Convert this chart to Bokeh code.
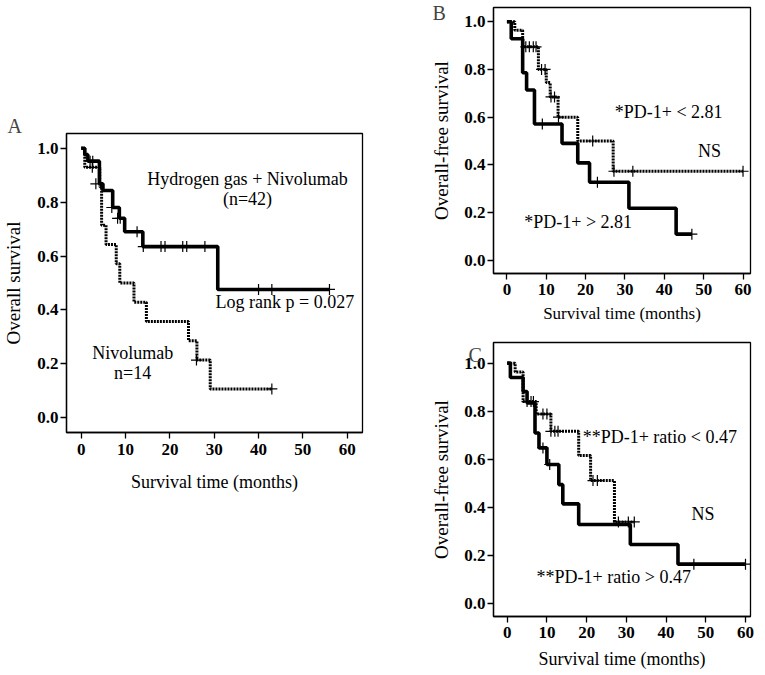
from bokeh.plotting import figure
from bokeh.models import Range1d, FixedTicker, PrintfTickFormatter, Label, Title
from bokeh.layouts import row, column
from bokeh.embed import file_html
from bokeh.resources import INLINE

FONT = "Liberation Serif"

# ---------------- Data ----------------
a_h2_t = [0, 0.8, 1.5, 4.1, 4.9, 7.1, 8.6, 9.8, 13.9, 30.8, 56]
a_h2_s = [1.0, 0.976, 0.952, 0.868, 0.843, 0.78, 0.74, 0.69, 0.635, 0.476, 0.476]
a_h2_cens_t = [2.0, 2.6, 3.3, 6.9, 8.2, 8.8, 12.6, 14.0, 18.0, 18.9, 22.9, 23.8, 27.9, 40.0, 43.0, 56.0]
a_h2_cens_s = [0.952, 0.952, 0.868, 0.78, 0.74, 0.74, 0.69, 0.635, 0.635, 0.635, 0.635, 0.635, 0.635, 0.476, 0.476, 0.476]

a_niv_t = [0, 0.8, 4.2, 4.6, 5.6, 7.9, 8.7, 11.9, 14.7, 24.2, 26.1, 29.1, 43]
a_niv_s = [1.0, 0.929, 0.857, 0.714, 0.643, 0.571, 0.5, 0.429, 0.357, 0.286, 0.214, 0.107, 0.107]
a_niv_cens_t = [2.5, 26.0, 43.0]
a_niv_cens_s = [0.929, 0.214, 0.107]

b_hi_t = [0, 1.1, 4, 5, 7, 14, 18, 21, 31, 43, 47]
b_hi_s = [1.0, 0.929, 0.786, 0.714, 0.571, 0.49, 0.408, 0.327, 0.218, 0.109, 0.109]
b_hi_cens_t = [9.0, 23.0, 47.0]
b_hi_cens_s = [0.571, 0.327, 0.109]

b_lo_t = [0, 2, 4, 8, 10, 11, 13, 18, 27, 60]
b_lo_s = [1.0, 0.965, 0.895, 0.80, 0.745, 0.685, 0.60, 0.50, 0.373, 0.373]
b_lo_cens_t = [4.8, 5.7, 6.7, 7.4, 8.8, 9.7, 11.2, 12.1, 13.1, 21.8, 27.2, 32.0, 60.0]
b_lo_cens_s = [0.895, 0.895, 0.895, 0.895, 0.80, 0.80, 0.685, 0.685, 0.60, 0.50, 0.373, 0.373, 0.373]

c_hi_t = [0, 0.8, 4, 5, 7, 8, 10, 13, 14, 18, 31, 43, 60]
c_hi_s = [1.0, 0.94, 0.882, 0.834, 0.709, 0.647, 0.578, 0.494, 0.414, 0.328, 0.245, 0.163, 0.163]
c_hi_cens_t = [9.0, 10.7, 47.0, 60.0]
c_hi_cens_s = [0.647, 0.578, 0.163, 0.163]

c_lo_t = [0, 2, 4, 7.3, 11, 18, 21, 27, 32]
c_lo_s = [1.0, 0.963, 0.84, 0.788, 0.716, 0.615, 0.511, 0.339, 0.339]
c_lo_cens_t = [5.0, 6.0, 6.6, 9.0, 10.0, 11.0, 12.0, 12.8, 21.6, 22.7, 28.0, 30.5, 32.0]
c_lo_cens_s = [0.84, 0.84, 0.84, 0.788, 0.788, 0.716, 0.716, 0.716, 0.511, 0.511, 0.339, 0.339, 0.339]

x_ticks = [0, 10, 20, 30, 40, 50, 60]
y_ticks = [0.0, 0.2, 0.4, 0.6, 0.8, 1.0]


def make_fig(fw, fh, xr, yr, borders, ylab, xlab_size, ylab_size):
    l, r, t, b = borders
    p = figure(frame_width=fw, frame_height=fh, output_backend="svg", toolbar_location=None,
               x_range=Range1d(*xr), y_range=Range1d(*yr),
               min_border_left=l, min_border_right=r, min_border_top=t, min_border_bottom=b)
    p.grid.visible = False
    p.outline_line_color = "black"
    p.outline_line_width = 1.3
    p.background_fill_color = "white"
    p.border_fill_color = "white"
    for ax in (p.xaxis[0], p.yaxis[0]):
        ax.axis_line_color = "black"
        ax.axis_line_width = 1.3
        ax.major_tick_line_color = "black"
        ax.major_tick_line_width = 1.3
        ax.major_tick_in = 0
        ax.major_tick_out = 6
        ax.minor_tick_line_color = None
        ax.major_label_text_font = FONT
        ax.major_label_text_font_style = "bold"
        ax.major_label_text_font_size = "17px"
        ax.major_label_text_color = "black"
        ax.axis_label_text_font = FONT
        ax.axis_label_text_font_style = "normal"
        ax.axis_label_text_color = "black"
    p.xaxis.ticker = FixedTicker(ticks=x_ticks)
    p.yaxis.ticker = FixedTicker(ticks=y_ticks)
    p.yaxis.formatter = PrintfTickFormatter(format="%.1f")
    p.xaxis.axis_label = "Survival time (months)"
    p.yaxis.axis_label = ylab
    p.xaxis.axis_label_text_font_size = xlab_size
    p.yaxis.axis_label_text_font_size = ylab_size
    p.xaxis.major_label_standoff = 4
    p.yaxis.major_label_standoff = 2
    return p


def km(p, t, s, ct, cs, dashed):
    if dashed:
        p.step(t, s, mode="after", line_color="black", line_width=3, line_dash="2 1")
    else:
        p.step(t, s, mode="after", line_color="black", line_width=3.6)
    p.scatter(ct, cs, marker="cross", size=11, line_color="black", line_width=1.2)


def txt(p, x, y, text, size="18px", align="left"):
    p.add_layout(Label(x=x, y=y, text=text, text_font=FONT, text_font_size=size,
                       text_color="black", text_align=align, text_baseline="middle"))


# Panel A
pa = make_fig(296, 299, (-3.32, 63.45), (-0.0545, 1.0545), (59, 17, 133, 227),
              "Overall survival", "18px", "19px")
pa.xaxis.major_label_standoff = 5
pa.xaxis.axis_label_standoff = 14
pa.yaxis.axis_label_standoff = 10
km(pa, a_niv_t, a_niv_s, a_niv_cens_t, a_niv_cens_s, True)
km(pa, a_h2_t, a_h2_s, a_h2_cens_t, a_h2_cens_s, False)
txt(pa, 37.5, 0.884, "Hydrogen gas + Nivolumab", align="center")
txt(pa, 37.5, 0.81, "(n=42)", align="center")
txt(pa, 30.3, 0.428, "Log rank p = 0.027")
txt(pa, 11.6, 0.242, "Nivolumab", align="center")
txt(pa, 11.6, 0.165, "n=14", align="center")
pa.add_layout(Title(text="A", align="left", offset=-59, standoff=-6, text_font=FONT,
                    text_font_size="20px", text_font_style="normal"), "above")

# Panel B
pb = make_fig(257, 266, (-3.41, 61.9), (-0.056, 1.06), (114, 6, 7, 52),
              "Overall-free survival", "17px", "19px")
pb.xaxis.axis_label_standoff = 6
pb.yaxis.axis_label_standoff = 9
km(pb, b_lo_t, b_lo_s, b_lo_cens_t, b_lo_cens_s, True)
km(pb, b_hi_t, b_hi_s, b_hi_cens_t, b_hi_cens_s, False)
txt(pb, 27.4, 0.621, "*PD-1+ < 2.81")
txt(pb, 51.5, 0.457, "NS", align="center")
txt(pb, 4.4, 0.159, "*PD-1+ > 2.81")
pb.add_layout(Title(text="B", align="left", offset=-61, standoff=-32, text_font=FONT,
                    text_font_size="20px", text_font_style="normal"), "above")

# Panel C
pc = make_fig(257, 274, (-3.45, 61.26), (-0.055, 1.086), (114, 6, 17, 50),
              "Overall-free survival", "18px", "19px")
pc.xaxis.axis_label_standoff = 8
pc.yaxis.axis_label_standoff = 9
km(pc, c_lo_t, c_lo_s, c_lo_cens_t, c_lo_cens_s, True)
km(pc, c_hi_t, c_hi_s, c_hi_cens_t, c_hi_cens_s, False)
txt(pc, 19.0, 0.694, "**PD-1+ ratio < 0.47")
txt(pc, 49.3, 0.370, "NS", align="center")
txt(pc, 7.4, 0.108, "**PD-1+ ratio > 0.47")
pc.add_layout(Label(x=53, y=262, x_units="screen", y_units="screen", text="C",
                    text_font=FONT, text_font_size="20px", text_baseline="middle"), "left")

layout = row(pa, column(pb, pc))
open("out.html", "w").write(file_html(layout, INLINE))
